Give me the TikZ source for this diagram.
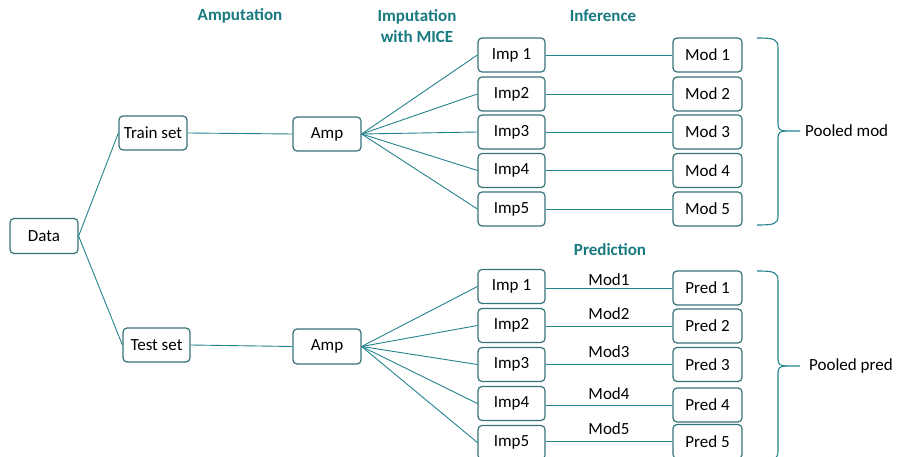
\documentclass[tikz,border=0pt]{standalone}
\usepackage{fontspec}
\setmainfont{Carlito}
\definecolor{headc}{HTML}{187A80}
\definecolor{boxc}{HTML}{35737A}
\definecolor{linec}{HTML}{24848E}
\begin{document}
\begin{tikzpicture}[x=1pt,y=-1pt,
  every node/.style={font=\fontsize{17}{20.4}\selectfont},
  box/.style={draw=boxc, line width=1.2pt, rounded corners=4pt, fill=white, inner sep=0pt, minimum width=68pt, minimum height=34pt},
  head/.style={text=headc, font=\fontsize{17}{20.4}\selectfont\bfseries, align=center},
  conn/.style={draw=linec, line width=0.9pt},
  brace/.style={draw=linec, line width=1.1pt}]
\clip (0,0) rectangle (898,457);
\fill[white] (0,0) rectangle (898,457);
% headers
\node[head] (hamp) at (240,16) {Amputation};
\node[head] (himp) at (417,26) {Imputation\\with MICE};
\node[head] (hinf) at (603,16) {Inference};
\node[head] (hpred) at (610,250) {Prediction};
% left nodes
\node[box, minimum height=35pt] (data) at (44,236) {Data};
\node[box] (train) at (153,133) {Train set};
\node[box, minimum width=67pt] (test) at (156.5,345) {Test set};
\node[box] (ampA) at (327,134) {Amp};
\node[box, minimum height=35pt] (ampB) at (327,346.5) {Amp};
% top block
\foreach \i/\y/\t in {1/55/Imp 1,2/94/Imp2,3/132/Imp3,4/170.5/Imp4,5/209/Imp5}{
  \node[box, minimum width=67pt] (ia\i) at (511.5,\y) {\t};
  \node[box, minimum width=69pt] (ma\i) at (707.5,\y) {Mod \i};
}
% bottom block
\foreach \i/\y/\t in {1/286.5/Imp 1,2/325.5/Imp2,3/364.5/Imp3,4/403.5/Imp4,5/442.5/Imp5}{
  \node[box, minimum width=67pt] (ib\i) at (511.5,\y) {\t};
}
\foreach \i/\y in {1/288,2/326,3/364.5,4/405,5/441.5}{
  \node[box, minimum width=69pt] (pb\i) at (707.5,\y) {Pred \i};
}
\foreach \i/\y in {1/280,2/314,3/352,4/394,5/429}{
  \node (lb\i) at (609,\y) {Mod\i};
}
% connectors
\draw[conn] (data.east) -- (train.west);
\draw[conn] (data.east) -- (test.west);
\draw[conn] (train.east) -- (ampA.west);
\draw[conn] (test.east) -- (ampB.west);
\foreach \i in {1,...,5}{
  \draw[conn] (ampA.east) -- (ia\i.west);
  \draw[conn] (ia\i.east) -- (ma\i.west);
  \draw[conn] (ampB.east) -- (ib\i.west);
  \draw[conn] (ib\i.east |- pb\i.west) -- (pb\i.west);
}
% braces
\coordinate (tipA) at (800,131);
\coordinate (tipB) at (800,366);
\draw[brace] (757,38) .. controls (774,38) and (778,39) .. (778,48) -- (778,124)
  .. controls (778,129) and (780,131) .. (786,131) -- (tipA);
\draw[brace] (786,131) .. controls (780,131) and (778,133) .. (778,138) -- (778,216)
  .. controls (778,224) and (774,225) .. (757,225);
\draw[brace] (757,271) .. controls (774,271) and (778,272) .. (778,281) -- (778,359)
  .. controls (778,364) and (780,366) .. (786,366) -- (tipB);
\draw[brace] (786,366) .. controls (780,366) and (778,368) .. (778,373) -- (778,451)
  .. controls (778,459) and (774,461) .. (757,461);
\node[anchor=west, inner sep=0pt] (pmod) at (805,131) {Pooled mod};
\node[anchor=west, inner sep=0pt] (ppred) at (809,366) {Pooled pred};
\end{tikzpicture}
\end{document}
